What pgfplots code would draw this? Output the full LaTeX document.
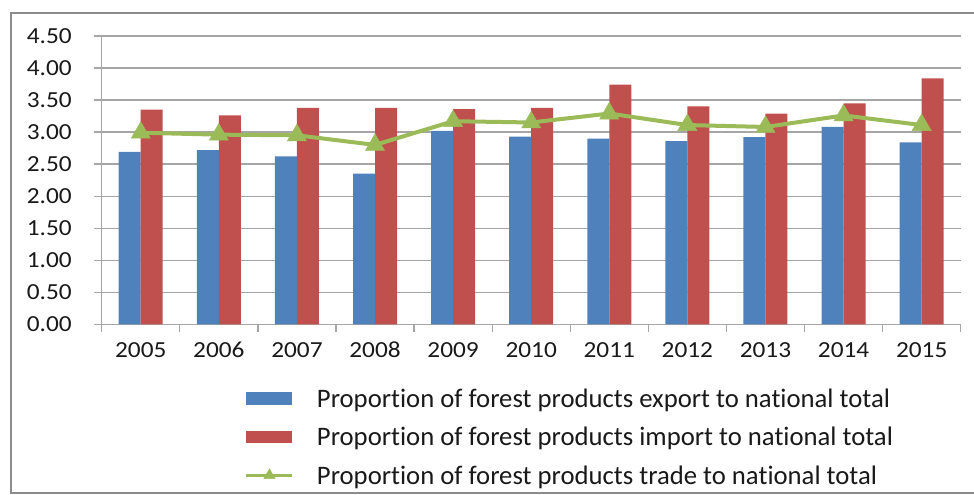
\documentclass[border=0pt]{standalone}
\usepackage{fontspec}
\setmainfont{Carlito}[Ligatures={NoCommon}]
\newfontfamily\tickfont[FakeStretch=1.1]{Carlito}
\usepackage{pgfplots}
\usepackage{pgfplotstable}
\pgfplotsset{compat=1.18}
\definecolor{cblue}{HTML}{4F81BD}
\definecolor{cred}{HTML}{C0504D}
\definecolor{cgreen}{HTML}{9BBB59}
\definecolor{cgrid}{HTML}{A6A6A6}
\definecolor{cframe}{HTML}{8C8C8C}
\pgfplotstableread{
x export import trade
0 2.69 3.35 2.99
1 2.72 3.26 2.96
2 2.62 3.38 2.95
3 2.35 3.38 2.80
4 3.02 3.36 3.17
5 2.93 3.38 3.15
6 2.90 3.74 3.29
7 2.86 3.40 3.11
8 2.92 3.29 3.08
9 3.08 3.45 3.26
10 2.84 3.84 3.11
}\datatable
\begin{document}
\begin{tikzpicture}
\useasboundingbox (0,0) rectangle (974pt,495pt);
\draw[cframe, line width=2pt] (11pt,2pt) rectangle (990pt,482pt);
\begin{axis}[
  at={(101.7pt,170.7pt)}, anchor=south west,
  scale only axis, width=859pt, height=288.3pt,
  xmin=-0.5, xmax=10.5, ymin=0, ymax=4.5,
  axis x line=bottom, axis y line=left,
  axis line style={cgrid, line width=1.3pt, -},
  x axis line style={-}, y axis line style={-},
  ytick={0,0.5,...,4.5},
  ymajorgrids, grid style={cgrid, line width=1.3pt},
  xtick={-0.5,0.5,...,10.5},
  xticklabels={2005,2006,2007,2008,2009,2010,2011,2012,2013,2014,2015,{}},
  tick align=outside, major tick length=7.5pt,
  tick style={cgrid, line width=1.3pt},
  /pgf/number format/assume math mode=true,
  yticklabel={\pgfmathprintnumber[fixed, fixed zerofill, precision=2]{\tick}},
  ticklabel style={font=\tickfont\fontsize{23pt}{27pt}\selectfont, text=black!90},
  xticklabel style={xshift=39.05pt, anchor=north, text height=14.5pt, text depth=0pt, yshift=-8pt},
  yticklabel style={xshift=-19pt},
  legend style={at={(0.1668,-0.2272)}, anchor=north west, draw=none, fill=none,
    inner sep=0pt, outer sep=0pt, row sep=14.85pt,
    nodes={inner sep=0pt, text height=17.5pt, text depth=6pt, font=\fontsize{26.7pt}{30pt}\selectfont, text=black!90},
    /tikz/every odd column/.append style={column sep=23pt}},
  legend cell align=left,
]
\addplot[ybar, bar width=22pt, bar shift=-11pt, fill=cblue, draw=none,
  legend image code/.code={\fill[cblue] (0pt,-3.45pt) rectangle (46pt,9.15pt);}]
  table[x=x, y=export] {\datatable};
\addlegendentry{Proportion of forest products export to national total}
\addplot[ybar, bar width=22pt, bar shift=11pt, fill=cred, draw=none,
  legend image code/.code={\fill[cred] (0pt,-3.45pt) rectangle (46pt,9.15pt);}]
  table[x=x, y=import] {\datatable};
\addlegendentry{Proportion of forest products import to national total}
\addplot[cgreen, line width=4pt, mark=triangle*, mark size=11pt,
  mark options={fill=cgreen, draw=cgreen, line width=0.5pt},
  legend image code/.code={
    \draw[cgreen, line width=3pt] (0pt,2.85pt) -- (46pt,2.85pt);
    \draw[cgreen, mark=triangle*, mark size=6.5pt, mark options={fill=cgreen, line width=0.5pt}] plot coordinates {(23pt,2.85pt)};}]
  table[x=x, y=trade] {\datatable};
\addlegendentry{Proportion of forest products trade to national total}
\end{axis}
\end{tikzpicture}
\end{document}
